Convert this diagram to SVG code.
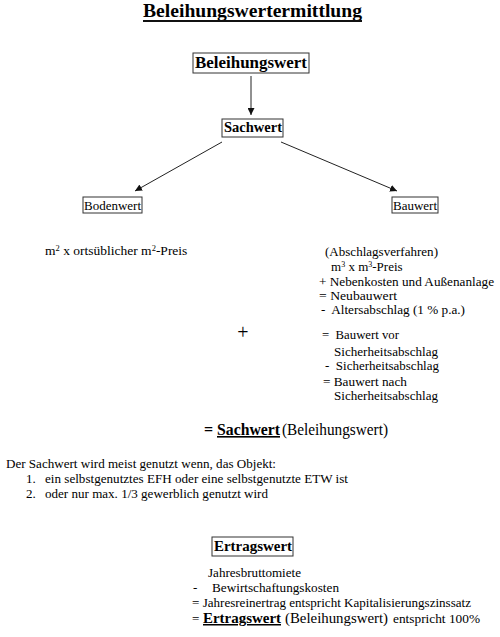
<svg xmlns="http://www.w3.org/2000/svg" width="500" height="637" viewBox="0 0 500 637">
<style>
text{font-family:"Liberation Serif","Times New Roman",serif;fill:#000}
.b{font-weight:bold}
.box{fill:#fff;stroke:#333;stroke-width:1}
.c{stroke:#222;stroke-width:1;fill:none}
.t13{font-size:13px}
</style>
<defs>
<marker id="ah" viewBox="0 0 10 10" refX="10" refY="5" markerWidth="7" markerHeight="7" markerUnits="userSpaceOnUse" orient="auto">
<path d="M0,0 L10,5 L0,10 z" fill="#111"/>
</marker>
</defs>
<rect width="500" height="637" fill="#fff"/>
<g id="title">
<text class="b" x="143" y="17" font-size="19.5" textLength="219" lengthAdjust="spacingAndGlyphs">Beleihungswertermittlung</text>
<line x1="143" y1="21" x2="362" y2="21" stroke="#111" stroke-width="2"/>
</g>
<g id="connectors">
<line class="c" x1="251" y1="76" x2="251" y2="115" marker-end="url(#ah)"/>
<line class="c" x1="222" y1="142" x2="135" y2="191" marker-end="url(#ah)"/>
<line class="c" x1="281" y1="142" x2="397" y2="191" marker-end="url(#ah)"/>
</g>
<g id="beleihungswert">
<rect class="box" x="193" y="53" width="116" height="20"/>
<text class="b" x="195" y="68" font-size="17" textLength="112" lengthAdjust="spacingAndGlyphs">Beleihungswert</text>
</g>
<g id="sachwert">
<rect class="box" x="222" y="119" width="61" height="18"/>
<text class="b" x="224" y="132" font-size="15" textLength="58" lengthAdjust="spacingAndGlyphs">Sachwert</text>
</g>
<g id="bodenwert">
<rect class="box" x="83" y="197" width="59" height="16"/>
<text class="t13" x="84" y="209.5" textLength="57" lengthAdjust="spacingAndGlyphs">Bodenwert</text>
</g>
<g id="bauwert">
<rect class="box" x="392" y="197" width="46" height="16"/>
<text class="t13" x="393" y="209.5" textLength="44" lengthAdjust="spacingAndGlyphs">Bauwert</text>
</g>
<g id="bodenwert-text">
<text x="45" y="255" font-size="13.5">m<tspan font-size="8.5" dy="-4.5">2</tspan><tspan dy="4.5"> x ortsüblicher m</tspan><tspan font-size="8.5" dy="-4.5">2</tspan><tspan dy="4.5">-Preis</tspan></text>
</g>
<g id="plus">
<text x="243" y="339" font-size="20" text-anchor="middle">+</text>
</g>
<g id="bauwert-text">
<text class="t13" x="325" y="256" textLength="113" lengthAdjust="spacingAndGlyphs">(Abschlagsverfahren)</text>
<text x="331" y="271" font-size="13">m<tspan font-size="8" dy="-4">3</tspan><tspan dy="4"> x m</tspan><tspan font-size="8" dy="-4">3</tspan><tspan dy="4">-Preis</tspan></text>
<text class="t13" x="319" y="286" textLength="175" lengthAdjust="spacingAndGlyphs">+ Nebenkosten und Außenanlage</text>
<text class="t13" x="319" y="300" textLength="78" lengthAdjust="spacingAndGlyphs">= Neubauwert</text>
<text class="t13" x="321" y="314" textLength="144" lengthAdjust="spacingAndGlyphs" xml:space="preserve">-  Altersabschlag (1 % p.a.)</text>
<text class="t13" x="322" y="339" textLength="77" lengthAdjust="spacingAndGlyphs" xml:space="preserve">=  Bauwert vor</text>
<text class="t13" x="334" y="356" textLength="104" lengthAdjust="spacingAndGlyphs">Sicherheitsabschlag</text>
<text class="t13" x="325" y="370" textLength="114" lengthAdjust="spacingAndGlyphs" xml:space="preserve">-  Sicherheitsabschlag</text>
<text class="t13" x="323" y="386" textLength="84" lengthAdjust="spacingAndGlyphs">= Bauwert nach</text>
<text class="t13" x="334" y="400" textLength="104" lengthAdjust="spacingAndGlyphs">Sicherheitsabschlag</text>
</g>
<g id="sachwert-result">
<text class="b" x="204" y="435" font-size="16">=</text>
<text class="b" x="217" y="435" font-size="16" text-decoration="underline" textLength="63" lengthAdjust="spacingAndGlyphs">Sachwert </text>
<text x="282" y="435" font-size="16" textLength="106" lengthAdjust="spacingAndGlyphs">(Beleihungswert)</text>
</g>
<g id="sachwert-note">
<text class="t13" x="6" y="468" textLength="270" lengthAdjust="spacingAndGlyphs">Der Sachwert wird meist genutzt wenn, das Objekt:</text>
<text class="t13" x="26" y="483">1.</text>
<text class="t13" x="45" y="483" textLength="303" lengthAdjust="spacingAndGlyphs">ein selbstgenutztes EFH oder eine selbstgenutzte ETW ist</text>
<text class="t13" x="26" y="498">2.</text>
<text class="t13" x="45" y="498" textLength="223" lengthAdjust="spacingAndGlyphs">oder nur max. 1/3 gewerblich genutzt wird</text>
</g>
<g id="ertragswert">
<rect class="box" x="212" y="537" width="81" height="19"/>
<text class="b" x="214" y="551" font-size="15" textLength="78" lengthAdjust="spacingAndGlyphs">Ertragswert</text>
</g>
<g id="ertragswert-text">
<text class="t13" x="208" y="577" textLength="93" lengthAdjust="spacingAndGlyphs">Jahresbruttomiete</text>
<text class="t13" x="193" y="592">-</text>
<text class="t13" x="212" y="592" textLength="127" lengthAdjust="spacingAndGlyphs">Bewirtschaftungskosten</text>
<text class="t13" x="192" y="607" textLength="279" lengthAdjust="spacingAndGlyphs">= Jahresreinertrag entspricht Kapitalisierungszinssatz</text>
<text class="t13" x="192" y="623">=</text>
<text class="b" x="203" y="623" font-size="15" text-decoration="underline" textLength="78" lengthAdjust="spacingAndGlyphs">Ertragswert</text>
<text x="285" y="623" font-size="15" textLength="103" lengthAdjust="spacingAndGlyphs">(Beleihungswert)</text>
<text class="t13" x="393" y="623" textLength="87" lengthAdjust="spacingAndGlyphs">entspricht 100%</text>
</g>
</svg>
